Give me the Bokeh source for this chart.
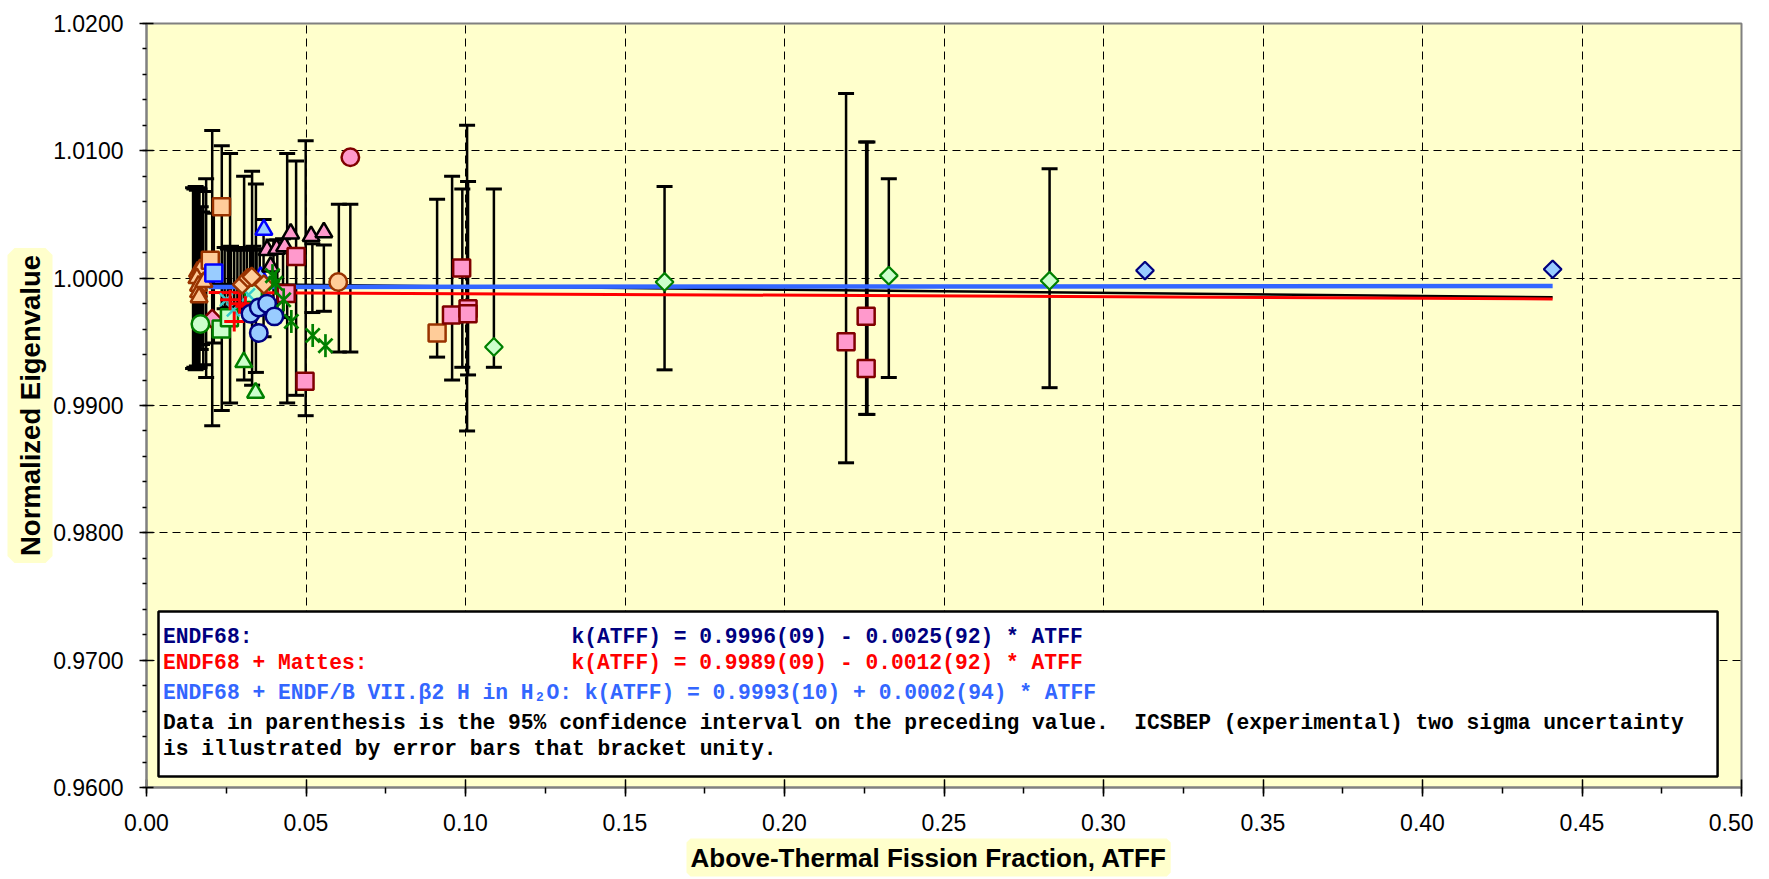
import numpy as np
from bokeh.plotting import figure
from bokeh.models import (Range1d, SingleIntervalTicker, NumeralTickFormatter,
                          BoxAnnotation, Label, Title)
from bokeh.embed import file_html
from bokeh.resources import INLINE

# ---------------- data ----------------
# ICSBEP two-sigma uncertainty bars (bracket unity): position and half width
err_x = [0.0146, 0.0150, 0.0154, 0.0158, 0.0162, 0.0166, 0.0170, 0.0174, 0.0178,
         0.0187, 0.0206, 0.0211, 0.0236, 0.0262,
         0.0245, 0.0255, 0.0265, 0.0275, 0.0285, 0.0295, 0.0305, 0.0315, 0.0325,
         0.0335, 0.0345, 0.0355,
         0.0306, 0.0331, 0.0343, 0.0367, 0.0398, 0.0410, 0.0428, 0.0441, 0.0469,
         0.0499, 0.0520, 0.0556, 0.0603, 0.0639,
         0.0911, 0.0958, 0.0990, 0.1005, 0.1008, 0.1089, 0.1624,
         0.2193, 0.2256, 0.2260, 0.2327, 0.2831]
err_h = [0.0071, 0.0070, 0.0072, 0.0069, 0.0071, 0.0070, 0.0056, 0.0052, 0.0068,
         0.0078, 0.0116, 0.0051, 0.0104, 0.0098,
         0.0024, 0.0023, 0.0025, 0.0022, 0.0024, 0.0023, 0.0022, 0.0024, 0.0023,
         0.0025, 0.0022, 0.0023,
         0.0080, 0.0084, 0.0074, 0.0046, 0.0030, 0.0030, 0.0031, 0.0098, 0.0092,
         0.0108, 0.0027, 0.0026, 0.0058, 0.0058,
         0.0062, 0.0080, 0.0070, 0.0120, 0.0076, 0.0070, 0.0072,
         0.0145, 0.0107, 0.0107, 0.0078, 0.0086]

# linear fits k(ATFF) = a + b * ATFF
fit_x = [0.0195, 0.4408]
endf68_ab = [0.9996, -0.0025]
mattes_ab = [0.9989, -0.0012]
beta2_ab = [0.9993, 0.0002]

# benchmark results (ATFF, normalized eigenvalue)
peach_tri_x = [0.0160, 0.0168, 0.0158, 0.0163, 0.0163, 0.0165, 0.0180]
peach_tri_y = [1.0005, 1.0007, 1.0000, 0.9994, 0.9989, 0.9985, 0.9997]
peach_sq_x = [0.0235, 0.0200, 0.0911]
peach_sq_y = [1.0056, 1.0014, 0.9957]
peach_dia_x = [0.0300, 0.0318, 0.0330, 0.0368]
peach_dia_y = [0.9995, 1.0000, 1.0001, 0.9995]
peach_circ_x = [0.0601]
peach_circ_y = [0.9997]
blue_sq_x = [0.0211]
blue_sq_y = [1.0004]
blue_tri_x = [0.0358, 0.0368]
blue_tri_y = [1.0001, 1.0038]
blue_circ_x = [0.0326, 0.0352, 0.0378, 0.0401, 0.0352]
blue_circ_y = [0.9972, 0.9977, 0.9980, 0.9970, 0.9957]
blue_dia_x = [0.3130, 0.4408]
blue_dia_y = [1.0006, 1.0007]
green_circ_x = [0.0169]
green_circ_y = [0.9964]
green_sq_x = [0.0234, 0.0260, 0.0335]
green_sq_y = [0.9960, 0.9969, 0.9988]
green_tri_x = [0.0305, 0.0342]
green_tri_y = [0.9934, 0.9910]
green_dia_x = [0.1089, 0.1624, 0.2327, 0.2831]
green_dia_y = [0.9946, 0.9997, 1.0002, 0.9998]
green_star_x = [0.0395, 0.0405, 0.0430, 0.0454, 0.0521, 0.0561]
green_star_y = [1.0002, 0.9996, 0.9983, 0.9966, 0.9955, 0.9947]
red_plus_x = [0.0262, 0.0292, 0.0310, 0.0275]
red_plus_y = [0.9983, 0.9980, 0.9978, 0.9966]
cyan_x_x = [0.0250, 0.0272, 0.0320]
cyan_x_y = [0.9983, 0.9975, 0.9987]
pink_tri_x = [0.0378, 0.0408, 0.0433, 0.0389, 0.0452, 0.0516, 0.0556]
pink_tri_y = [1.0022, 1.0023, 1.0025, 1.0009, 1.0035, 1.0033, 1.0036]
pink_sq_x = [0.0469, 0.0438, 0.0497, 0.0956, 0.0988, 0.1008, 0.1008, 0.2193, 0.2256, 0.2256]
pink_sq_y = [1.0017, 0.9988, 0.9919, 0.9971, 1.0008, 0.9976, 0.9972, 0.9950, 0.9970, 0.9929]
pink_circ_x = [0.0639]
pink_circ_y = [1.0095]
pink_dia_x = [0.0206]
pink_dia_y = [0.9968]

# ---------------- figure ----------------
PLOT_BG = "#FFFFCC"
p = figure(width=1753, height=879, output_backend="svg", toolbar_location=None,
           x_range=Range1d(0, 0.5), y_range=Range1d(0.96, 1.02),
           min_border_left=146, min_border_right=12, min_border_top=23,
           min_border_bottom=91)
p.background_fill_color = PLOT_BG
p.border_fill_color = "white"
p.outline_line_color = "#808080"
p.outline_line_width = 2

p.xaxis.ticker = SingleIntervalTicker(interval=0.05, num_minor_ticks=2)
p.yaxis.ticker = SingleIntervalTicker(interval=0.01, num_minor_ticks=5)
p.xaxis.formatter = NumeralTickFormatter(format="0.00")
p.yaxis.formatter = NumeralTickFormatter(format="0.0000")
for ax in (p.xaxis, p.yaxis):
    ax.axis_line_color = "#808080"
    ax.axis_line_width = 2
    ax.major_tick_line_color = "black"
    ax.minor_tick_line_color = "black"
    ax.major_tick_line_width = 1.5
    ax.minor_tick_line_width = 1.5
    ax.major_label_text_font = "Liberation Sans"
    ax.major_label_text_font_size = "23px"
    ax.major_label_text_color = "black"
p.xaxis.major_tick_in = 8
p.xaxis.major_tick_out = 9
p.xaxis.minor_tick_in = 0
p.xaxis.minor_tick_out = 6
p.yaxis.major_tick_in = 7
p.yaxis.major_tick_out = 7
p.yaxis.minor_tick_in = 0
p.yaxis.minor_tick_out = 4
p.xaxis.major_label_standoff = 17
p.yaxis.major_label_standoff = 16

for g in (p.xgrid, p.ygrid):
    g.grid_line_color = "black"
    g.grid_line_dash = "8 5"
    g.grid_line_width = 1

# error bars
lo = [1.0 - h for h in err_h]
hi = [1.0 + h for h in err_h]
p.segment(x0=err_x, y0=lo, x1=err_x, y1=hi, line_color="black", line_width=2.5)
p.scatter(x=err_x + err_x, y=lo + hi, marker="dash", size=16,
          line_color="black", line_width=3)

# fit lines
def fit_line(ab):
    return [ab[0] + ab[1] * x for x in fit_x]

p.line(fit_x, fit_line(endf68_ab), line_color="black", line_width=2.5)
p.line(fit_x, fit_line(mattes_ab), line_color="#FF0000", line_width=3)
p.line(fit_x, fit_line(beta2_ab), line_color="#3366FF", line_width=4.5)

# markers
PEACH, BROWN = "#FFCC99", "#993300"
PINK, DARKRED = "#FF99CC", "#800000"
LBLUE, NAVY, BLUE = "#99CCFF", "#000080", "#0000FF"
LGREEN, GREEN = "#CCFFCC", "#008000"

def mk(xs, ys, marker, fill, line, size, lw=2.5, angle=0.0):
    p.scatter(x=xs, y=ys, marker=marker, size=size, fill_color=fill,
              line_color=line, line_width=lw, angle=angle)

mk(pink_dia_x, pink_dia_y, "square", PINK, DARKRED, 13, 2.5, np.pi / 4)
mk(green_circ_x, green_circ_y, "circle", LGREEN, GREEN, 17.5)
mk(green_sq_x, green_sq_y, "square", LGREEN, GREEN, 17)
mk(peach_tri_x, peach_tri_y, "triangle", PEACH, BROWN, 17)
mk(peach_sq_x, peach_sq_y, "square", PEACH, BROWN, 17)
mk(blue_sq_x, blue_sq_y, "square", LBLUE, BLUE, 17)
mk(blue_tri_x, blue_tri_y, "triangle", LBLUE, BLUE, 17)
mk(green_tri_x, green_tri_y, "triangle", LGREEN, GREEN, 17)
mk(pink_tri_x, pink_tri_y, "triangle", PINK, "black", 17)
mk(pink_sq_x, pink_sq_y, "square", PINK, DARKRED, 17)
mk(cyan_x_x, cyan_x_y, "x", None, "#33CCCC", 18, 2.5)
mk(red_plus_x, red_plus_y, "cross", None, "#FF0000", 20, 3)
mk(peach_dia_x, peach_dia_y, "square", PEACH, BROWN, 13, 2.5, np.pi / 4)
mk(blue_circ_x, blue_circ_y, "circle", LBLUE, NAVY, 17.5)
mk(green_star_x, green_star_y, "x", None, GREEN, 20, 2.7)
mk(green_star_x, green_star_y, "dash", None, GREEN, 23, 2.7, np.pi / 2)
mk(peach_circ_x, peach_circ_y, "circle", PEACH, BROWN, 17.5)
mk(pink_circ_x, pink_circ_y, "circle", PINK, DARKRED, 17.5)
mk(green_dia_x, green_dia_y, "square", LGREEN, GREEN, 12.5, 2.2, np.pi / 4)
mk(blue_dia_x, blue_dia_y, "square", LBLUE, NAVY, 12.5, 2.2, np.pi / 4)

# ---------------- annotation box ----------------
box = BoxAnnotation(left=0.00376, right=0.4925, top=0.97382, bottom=0.96086,
                    fill_color="white", fill_alpha=1.0, line_color="black",
                    line_width=2.5, line_alpha=1.0)
p.add_layout(box)

MONO = "Liberation Mono"
FS = "21.3px"
TX0 = 0.00517
TXK = 0.13323
rows = [
    (TX0, 0.97185, "ENDF68:", "#000080"),
    (TXK, 0.97185, "k(ATFF) = 0.9996(09) - 0.0025(92) * ATFF", "#000080"),
    (TX0, 0.96976, "ENDF68 + Mattes:", "#FF0000"),
    (TXK, 0.96976, "k(ATFF) = 0.9989(09) - 0.0012(92) * ATFF", "#FF0000"),
    (TX0, 0.96741, "ENDF68 + ENDF/B VII.\u03b22 H in H\u2082O: k(ATFF) = 0.9993(10) + 0.0002(94) * ATFF", "#3366FF"),
    (TX0, 0.96510, "Data in parenthesis is the 95% confidence interval on the preceding value.\u00a0 ICSBEP (experimental) two sigma uncertainty", "black"),
    (TX0, 0.96304, "is illustrated by error bars that bracket unity.", "black"),
]
for x, y, t, c in rows:
    p.add_layout(Label(x=x, y=y, text=t, text_font=MONO, text_font_size=FS,
                       text_font_style="bold", text_color=c,
                       text_align="left", text_baseline="middle"))

# axis titles with highlighted background
p.add_layout(Title(text="Above-Thermal Fission Fraction, ATFF", align="left", offset=544,
                   text_font="Liberation Sans", text_font_size="26px",
                   text_font_style="bold", text_color="black",
                   background_fill_color=PLOT_BG, padding=0,
                   border_line_color=PLOT_BG, border_line_width=8, standoff=14), "below")
p.add_layout(Title(text="Normalized Eigenvalue", align="center",
                   text_font="Liberation Sans", text_font_size="27.5px",
                   text_font_style="bold", text_color="black",
                   background_fill_color=PLOT_BG, padding=0,
                   border_line_color=PLOT_BG, border_line_width=14, standoff=10), "left")

open("out.html", "w").write(file_html(p, INLINE))
